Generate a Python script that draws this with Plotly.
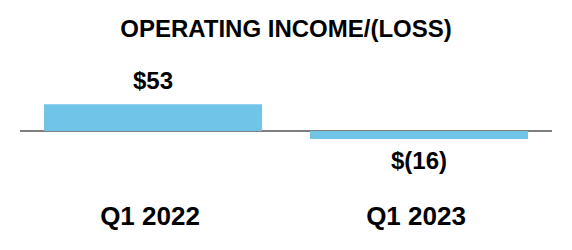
import plotly.graph_objects as go

categories = ["Q1 2022", "Q1 2023"]
values = [53, -16]
labels = ["$53", "$(16)"]

FONT = "Liberation Sans, Arial, sans-serif"

fig = go.Figure(go.Bar(
    x=categories, y=values,
    marker=dict(color="#70C4E8", line=dict(width=0)),
    width=0.82,
    hoverinfo="skip",
))

for c, v, l in zip(categories, values, labels):
    fig.add_annotation(
        x=c, y=v, text=f"<b>{l}</b>", showarrow=False,
        yshift=24 if v >= 0 else -21,
        font=dict(family=FONT, size=24, color="#000000"),
    )

fig.update_layout(
    width=572, height=250,
    margin=dict(l=20, r=20, t=60, b=55),
    paper_bgcolor="white", plot_bgcolor="white",
    showlegend=False,
    title=dict(text="<b>OPERATING INCOME/(LOSS)</b>", x=0.5, xanchor="center",
               y=1 - 29 / 250, yanchor="middle",
               font=dict(family=FONT, size=24, color="#000000")),
    xaxis=dict(showgrid=False, showline=False, ticks="",
               tickfont=dict(family=FONT, size=26, color="#000000"),
               tickprefix="<b>", ticksuffix="</b>", ticklabelstandoff=3,
               ticklabelshift=-3),
    yaxis=dict(range=[-126.7, 140.6], showgrid=False, showticklabels=False,
               zeroline=True, zerolinecolor="#7F7F7F", zerolinewidth=2,
               showline=False, ticks=""),
    bargap=0.18,
)

fig.write_html("out.html")
